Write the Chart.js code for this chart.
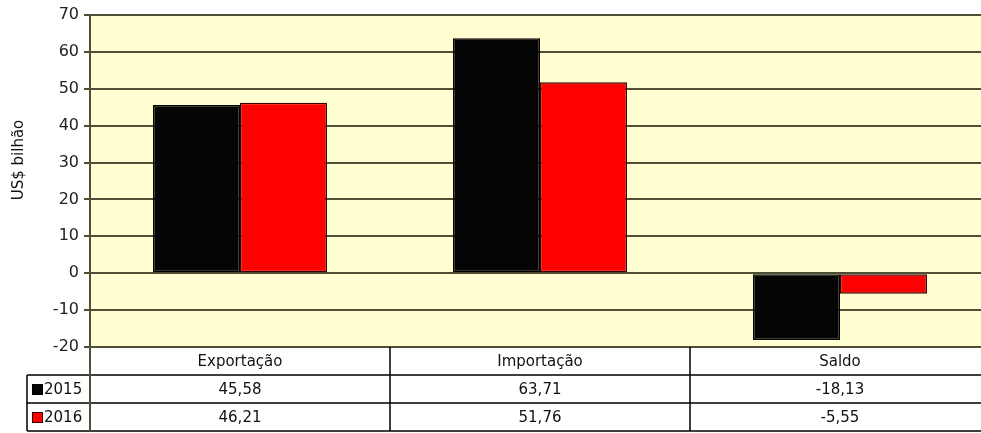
<!DOCTYPE html>
<html>
<head>
<meta charset="utf-8">
<script src="https://cdn.jsdelivr.net/npm/chart.js@4"></script>
<style>
  html, body { margin: 0; padding: 0; background: #fff; }
  #wrap { width: 981px; height: 433px; overflow: hidden; position: relative; }
  canvas { display: block; }
</style>
</head>
<body>
<div id="wrap"><canvas id="chart" width="990" height="433"></canvas></div>
<script>
const categories = ['Exportação', 'Importação', 'Saldo'];
const seriesNames = ['2015', '2016'];
const values2015 = [45.58, 63.71, -18.13];
const values2016 = [46.21, 51.76, -5.55];
const yMin = -20;
const yMax = 70;
const yStep = 10;
const yTitle = 'US$ bilhão';

const fontFamily = "'DejaVu Sans', Verdana, sans-serif";
const gridColor = '#4f4f35';
const plotBg = '#ffffd2';
const seriesFill = ['#050505', '#ff0000'];
const seriesBorder = ['#000000', '#3a0000'];

function fmt(v) {
    return v.toFixed(2).replace('.', ',');
}

// plot background, table under the chart and rotated axis title
const tablePlugin = {
    id: 'tablePlugin',
    beforeDraw(chart) {
        const a = chart.chartArea;
        const ctx = chart.ctx;
        ctx.save();
        ctx.fillStyle = plotBg;
        ctx.fillRect(a.left, a.top, a.right - a.left, a.bottom - a.top);
        ctx.restore();
    },
    afterDraw(chart) {
        const a = chart.chartArea;
        const ctx = chart.ctx;
        const x = chart.scales.x;
        const rowH = 28;
        const top = a.bottom;
        const keyLeft = 27;

        // column edges from the category scale
        let edges = [a.left];
        for (let i = 0; i < categories.length - 1; i++) {
            edges.push((x.getPixelForValue(i) + x.getPixelForValue(i + 1)) / 2);
        }
        edges.push(a.right);

        ctx.save();
        ctx.strokeStyle = '#000';
        ctx.lineWidth = 1.5;
        ctx.beginPath();
        // horizontal lines
        for (let r = 1; r <= 3; r++) {
            let y = top + r * rowH;
            ctx.moveTo(keyLeft, y);
            ctx.lineTo(a.right, y);
        }
        // vertical lines
        for (let i = 1; i < edges.length - 1; i++) {
            ctx.moveTo(edges[i], top);
            ctx.lineTo(edges[i], top + 3 * rowH);
        }
        ctx.moveTo(keyLeft, top + rowH);
        ctx.lineTo(keyLeft, top + 3 * rowH);
        ctx.stroke();
        ctx.lineWidth = 2;
        ctx.strokeStyle = gridColor;
        ctx.beginPath();
        ctx.moveTo(a.left, top);
        ctx.lineTo(a.left, top + 3 * rowH);
        ctx.stroke();

        ctx.fillStyle = '#111';
        ctx.font = '15px ' + fontFamily;
        ctx.textAlign = 'center';
        ctx.textBaseline = 'middle';
        const rows = [values2015, values2016];
        for (let i = 0; i < categories.length; i++) {
            let cx = x.getPixelForValue(i);
            ctx.fillText(categories[i], cx, top + rowH / 2 + 1);
            for (let r = 0; r < rows.length; r++) {
                ctx.fillText(fmt(rows[r][i]), cx, top + rowH * (r + 1.5) + 1);
            }
        }

        // legend keys in the left column
        ctx.textAlign = 'left';
        for (let r = 0; r < seriesNames.length; r++) {
            let cy = top + rowH * (r + 1.5);
            ctx.fillStyle = seriesFill[r];
            ctx.fillRect(32, cy - 5, 11, 11);
            ctx.strokeStyle = seriesBorder[r];
            ctx.lineWidth = 1;
            ctx.strokeRect(32.5, cy - 4.5, 10, 10);
            ctx.fillStyle = '#111';
            ctx.fillText(seriesNames[r], 44, cy + 1);
        }

        // y axis title
        ctx.translate(19, 160);
        ctx.rotate(-Math.PI / 2);
        ctx.textAlign = 'center';
        ctx.font = '15px ' + fontFamily;
        ctx.fillText(yTitle, 0, 0);
        ctx.restore();
    }
};

new Chart(document.getElementById('chart'), {
    type: 'bar',
    data: {
        labels: categories,
        datasets: [
            {
                label: seriesNames[0],
                data: values2015,
                backgroundColor: seriesFill[0],
                borderColor: seriesBorder[0],
                borderWidth: 1.5,
                borderSkipped: false
            },
            {
                label: seriesNames[1],
                data: values2016,
                backgroundColor: seriesFill[1],
                borderColor: seriesBorder[1],
                borderWidth: 1.5,
                borderSkipped: false
            }
        ]
    },
    options: {
        responsive: false,
        animation: false,
        devicePixelRatio: 1,
        categoryPercentage: 0.58,
        barPercentage: 1,
        layout: { padding: { top: 15, bottom: 86, left: 0, right: 0 } },
        plugins: {
            legend: { display: false },
            tooltip: { enabled: false }
        },
        scales: {
            x: {
                display: false
            },
            y: {
                min: yMin,
                max: yMax,
                ticks: {
                    stepSize: yStep,
                    padding: 5,
                    color: '#222',
                    font: { family: fontFamily, size: 16 }
                },
                grid: {
                    color: gridColor,
                    lineWidth: 2,
                    tickLength: 6
                },
                border: { display: true, color: gridColor, width: 2 },
                afterFit(scale) { scale.width = 90; }
            }
        }
    },
    plugins: [tablePlugin]
});
</script>
</body>
</html>
